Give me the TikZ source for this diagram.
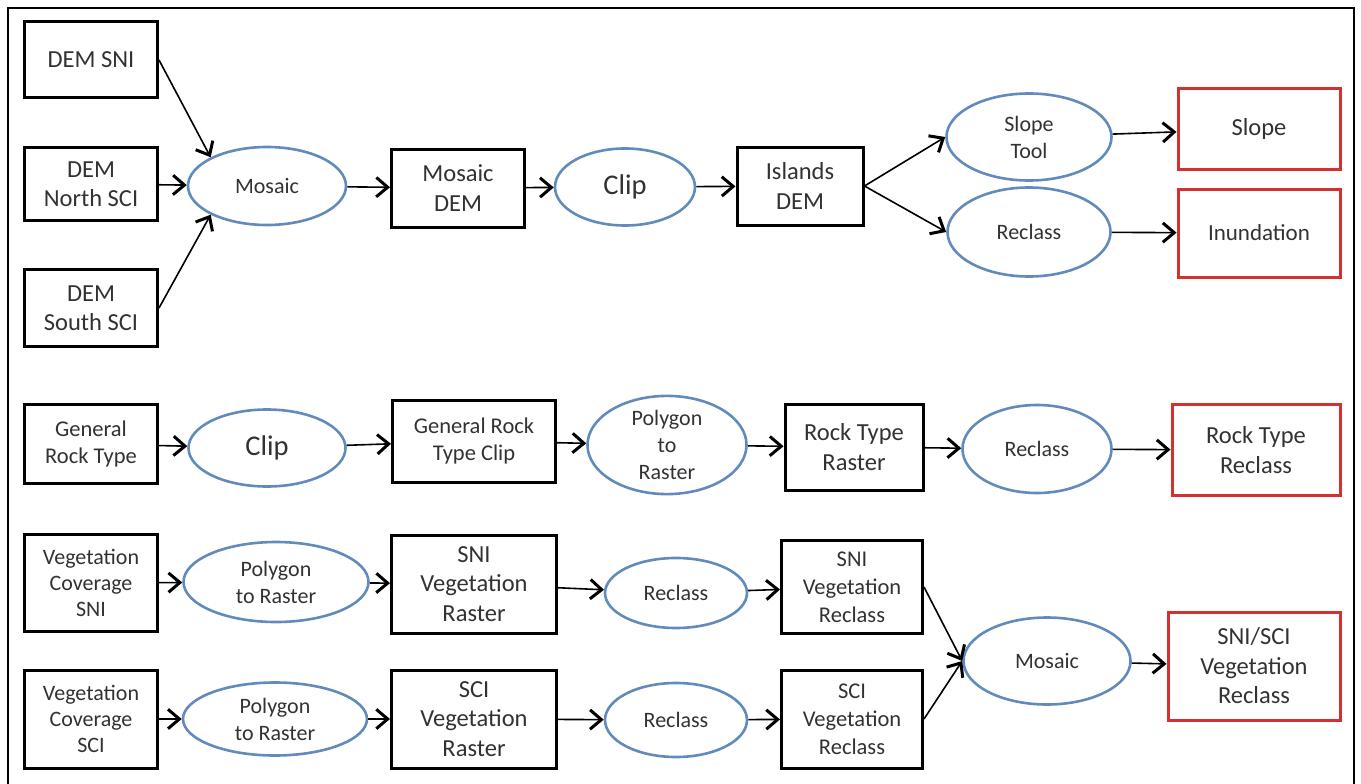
\documentclass[tikz,border=0pt]{standalone}
\usepackage{fontspec}
\setmainfont{Carlito}
\usetikzlibrary{arrows.meta,shapes.geometric}
\definecolor{ovalblue}{RGB}{98,138,186}
\definecolor{outred}{RGB}{212,48,48}
\definecolor{txtgray}{RGB}{50,50,50}
\begin{document}
\begin{tikzpicture}[
        x=1pt,y=-1pt,
        sz/.style 2 args={minimum width=#1pt,minimum height=#2pt},
        box/.style={draw=black,line width=3pt,align=center,inner sep=0pt,text=txtgray,font=\fontsize{24.5}{29.5}\selectfont},
        outbox/.style={box,draw=outred},
        proc/.style={ellipse,draw=ovalblue,line width=2.6pt,align=center,inner sep=0pt,text=txtgray,font=\fontsize{22}{27}\selectfont},
        flow/.style={-{Straight Barb[length=0.4cm,width=0.68cm,line width=3pt]},line width=1.6pt},
        ]
        \useasboundingbox (0,0) rectangle (1361,784);
        \draw[line width=1.5pt] (8,784) -- (8,8) -- (1354,8) -- (1354,784);

        % elevation
        \node[box,sz={133}{76}] (demsni) at (91,60) {DEM SNI};
        \node[box,sz={133}{73}] (demnorth) at (91,184) {DEM\\North SCI};
        \node[box,sz={133}{77}] (demsouth) at (91,308) {DEM\\South SCI};
        \node[proc,sz={158}{78}] (mosaicA) at (267,186) {Mosaic};
        \node[box,sz={133}{78}] (mosaicdem) at (458,188) {Mosaic\\DEM};
        \node[proc,sz={140}{77},font=\fontsize{28.5}{34}\selectfont] (clipA) at (625,187) {Clip};
        \node[box,sz={126}{78}] (islands) at (800,186) {Islands\\DEM};
        \node[proc,sz={165}{87}] (slopetool) at (1029,137) {Slope\\Tool};
        \node[proc,sz={163}{89}] (reclassA) at (1029,232) {Reclass};
        \node[outbox,sz={162}{80}] (slope) at (1259,129) {Slope};
        \node[outbox,sz={162}{88},font=\fontsize{23}{28}\selectfont] (inund) at (1259,233) {Inundation};

        % rock type
        \node[box,sz={133}{79},font=\fontsize{22.5}{27}\selectfont] (rocktype) at (91,444) {General\\Rock Type};
        \node[proc,sz={157}{77},font=\fontsize{28.5}{34}\selectfont] (clipB) at (267,448) {Clip};
        \node[box,sz={163}{82},font=\fontsize{22.5}{27}\selectfont] (rockclip) at (474,441) {General Rock\\Type Clip};
        \node[proc,sz={159}{94}] (polyB) at (667,445) {Polygon\\to\\Raster};
        \node[box,sz={138}{86}] (rockraster) at (854,447) {Rock Type\\Raster};
        \node[proc,sz={149}{88}] (reclassB) at (1037,449) {Reclass};
        \node[outbox,sz={168}{91}] (rockreclass) at (1256,450) {Rock Type\\Reclass};

        % vegetation
        \node[box,sz={133}{97},font=\fontsize{22}{26}\selectfont] (vegsni) at (91,583) {Vegetation\\Coverage\\SNI};
        \node[proc,sz={185}{80}] (polyC) at (276,582) {Polygon\\to Raster};
        \node[box,sz={165}{98}] (snivegr) at (474,584) {SNI\\Vegetation\\Raster};
        \node[proc,sz={142}{70}] (reclassC) at (676,593) {Reclass};
        \node[box,sz={141}{93},font=\fontsize{22.5}{28}\selectfont] (snivegrc) at (852,587) {SNI\\Vegetation\\Reclass};
        \node[box,sz={133}{98},font=\fontsize{22}{26}\selectfont] (vegsci) at (91,719) {Vegetation\\Coverage\\SCI};
        \node[proc,sz={184}{73}] (polyD) at (275,719) {Polygon\\to Raster};
        \node[box,sz={165}{98}] (scivegr) at (474,719) {SCI\\Vegetation\\Raster};
        \node[proc,sz={142}{74}] (reclassD) at (676,720) {Reclass};
        \node[box,sz={141}{98},font=\fontsize{22.5}{28}\selectfont] (scivegrc) at (852,719) {SCI\\Vegetation\\Reclass};
        \node[proc,sz={167}{87}] (mosaicB) at (1047,661) {Mosaic};
        \node[outbox,sz={172}{108}] (vegout) at (1254,666) {SNI/SCI\\Vegetation\\Reclass};

        \draw[flow] (demsni.east) -- (mosaicA.153);
        \draw[flow] (demnorth) -- (mosaicA);
        \draw[flow] (demsouth.east) -- (mosaicA.207);
        \draw[flow] (mosaicA) -- (mosaicdem);
        \draw[flow] (mosaicdem) -- (clipA);
        \draw[flow] (clipA) -- (islands);
        \draw[flow] (islands.east) -- (slopetool.west);
        \draw[flow] (islands.east) -- (reclassA.west);
        \draw[flow] (slopetool) -- (slope);
        \draw[flow] (reclassA) -- (inund);

        \draw[flow] (rocktype) -- (clipB);
        \draw[flow] (clipB) -- (rockclip);
        \draw[flow] (rockclip) -- (polyB);
        \draw[flow] (polyB) -- (rockraster);
        \draw[flow] (rockraster) -- (reclassB);
        \draw[flow] (reclassB) -- (rockreclass);

        \draw[flow] (vegsni) -- (polyC);
        \draw[flow] (polyC) -- (snivegr);
        \draw[flow] (snivegr) -- (reclassC);
        \draw[flow] (reclassC) -- (snivegrc);
        \draw[flow] (vegsci) -- (polyD);
        \draw[flow] (polyD) -- (scivegr);
        \draw[flow] (scivegr) -- (reclassD);
        \draw[flow] (reclassD) -- (scivegrc);
        \draw[flow] (snivegrc.east) -- (mosaicB.west);
        \draw[flow] (scivegrc.east) -- (mosaicB.west);
        \draw[flow] (mosaicB) -- (vegout);
\end{tikzpicture}
\end{document}
